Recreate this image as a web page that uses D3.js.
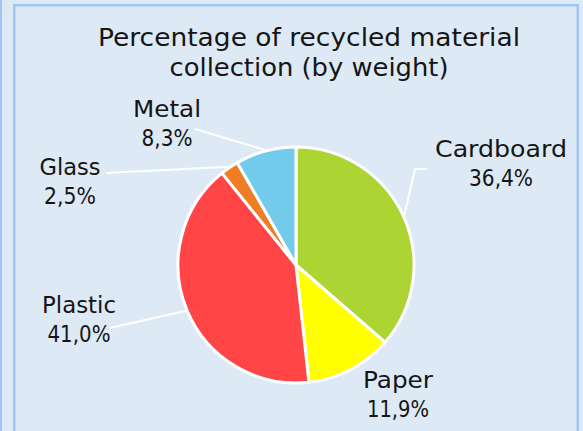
<!DOCTYPE html>
<html>
<head>
<meta charset="utf-8">
<script src="https://cdn.jsdelivr.net/npm/d3@7"></script>
<style>
  html, body { margin: 0; padding: 0; background: #dee9f6; }
  svg { display: block; }
  text { font-family: "DejaVu Sans", sans-serif; fill: #151515; }
</style>
</head>
<body>
<svg id="chart" width="583" height="431"></svg>
<script>
// ---- data ----
const categories = ["Cardboard", "Paper", "Plastic", "Glass", "Metal"];
const values = [36.4, 11.9, 41.0, 2.5, 8.3];
const valueLabels = ["36,4%", "11,9%", "41,0%", "2,5%", "8,3%"];
const colors = ["#acd433", "#ffff00", "#ff4545", "#ee7d24", "#72cbea"];
const titleLines = ["Percentage of recycled material", "collection (by weight)"];

// ---- layout (styling only) ----
const W = 583, H = 431;
const cx = 296, cy = 265, R = 118;
const labelLayout = {
  Cardboard: { x: 501, y: 157, w1: 132, w2: 64, leader: [[415, 169], [427, 169]] },
  Paper:     { x: 398, y: 388, w1: 70,  w2: 62, leader: null },
  Plastic:   { x: 79,  y: 313, w1: 74,  w2: 63, leader: [[110, 328]] },
  Glass:     { x: 70,  y: 175, w1: 61,  w2: 52, leader: [[106, 173]] },
  Metal:     { x: 167, y: 117, w1: 68,  w2: 51, leader: [[195, 129]] }
};

const svg = d3.select("#chart");

svg.append("rect").attr("x", 0).attr("y", 0).attr("width", W).attr("height", H).attr("fill", "#dee9f6");
svg.append("rect").attr("x", 0).attr("y", 0).attr("width", 2).attr("height", H).attr("fill", "#9fc5f4");
svg.append("rect").attr("x", 14.25).attr("y", 5.25).attr("width", 563.5).attr("height", 440)
  .attr("fill", "#dee9f6").attr("stroke", "#9fc5f4").attr("stroke-width", 2.5);

// title
const title = svg.append("g");
const titleWidths = [422, 279];
titleLines.forEach((t, i) => {
  title.append("text")
    .attr("x", 309).attr("y", 46 + i * 30)
    .attr("text-anchor", "middle")
    .attr("font-size", 25)
    .attr("textLength", titleWidths[i])
    .attr("lengthAdjust", "spacingAndGlyphs")
    .text(t);
});

const data = categories.map((c, i) => ({ name: c, value: values[i], label: valueLabels[i], color: colors[i] }));

const pie = d3.pie().value(d => d.value).sort(null);
const arcs = pie(data);
const arc = d3.arc().innerRadius(0).outerRadius(R);

const g = svg.append("g").attr("transform", `translate(${cx},${cy})`);
g.selectAll("path").data(arcs).join("path")
  .attr("d", arc)
  .attr("fill", d => d.data.color)
  .attr("stroke", "#fff")
  .attr("stroke-width", 3)
  .attr("stroke-linejoin", "round");

// leader lines
arcs.forEach(a => {
  const L = labelLayout[a.data.name];
  if (!L.leader) return;
  const mid = (a.startAngle + a.endAngle) / 2;
  const p0 = [cx + (R + 1) * Math.sin(mid), cy - (R + 1) * Math.cos(mid)];
  const pts = [p0, ...L.leader];
  svg.append("path")
    .attr("d", d3.line()(pts))
    .attr("fill", "none")
    .attr("stroke", "#fff")
    .attr("stroke-width", 2);
});

// labels
arcs.forEach(a => {
  const L = labelLayout[a.data.name];
  svg.append("text")
    .attr("x", L.x).attr("y", L.y)
    .attr("text-anchor", "middle").attr("font-size", 22.5)
    .attr("textLength", L.w1).attr("lengthAdjust", "spacingAndGlyphs")
    .text(a.data.name);
  svg.append("text")
    .attr("x", L.x).attr("y", L.y + 28.5)
    .attr("text-anchor", "middle").attr("font-size", 22.5)
    .attr("textLength", L.w2).attr("lengthAdjust", "spacingAndGlyphs")
    .text(a.data.label);
});
</script>
</body>
</html>
